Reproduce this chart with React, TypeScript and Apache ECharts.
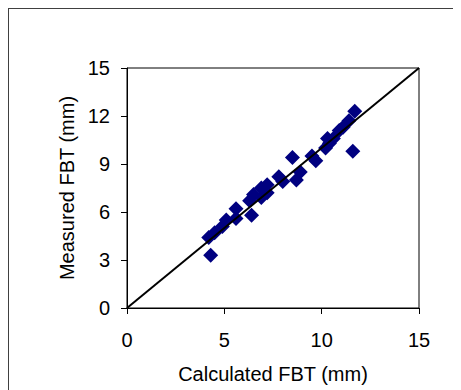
import React, { useEffect, useRef } from "react";
import * as echarts from "echarts";

const calculated: number[] = [4.3, 4.2, 4.5, 4.9, 5.1, 5.6, 5.6, 6.4, 6.3, 6.5, 6.9, 6.9, 7.2, 7.2, 7.8, 8.0, 8.5, 8.7, 8.9, 9.5, 9.7, 10.2, 10.4, 10.3, 10.6, 10.9, 11.1, 11.4, 11.7, 11.6];
const measured: number[] = [3.3, 4.4, 4.7, 5.1, 5.5, 5.6, 6.2, 5.8, 6.7, 7.1, 6.9, 7.5, 7.2, 7.7, 8.2, 7.9, 9.4, 8.0, 8.5, 9.5, 9.2, 10.0, 10.3, 10.6, 10.6, 11.1, 11.3, 11.7, 12.3, 9.8];
const identityLine: number[][] = [[0, 0], [15, 15]];
const xTicks = { min: 0, max: 15, interval: 5 };
const yTicks = { min: 0, max: 15, interval: 3 };
const xTitle = "Calculated FBT (mm)";
const yTitle = "Measured FBT (mm)";

export default function App() {
  const ref = useRef<HTMLDivElement>(null);
  useEffect(() => {
    if (!ref.current) return;
    const chart = echarts.init(ref.current, undefined, { renderer: "svg" });
    const font = "'Liberation Sans', Arial, sans-serif";
    chart.setOption({
      animation: false,
      backgroundColor: "#ffffff",
      grid: {
        left: 118,
        top: 59,
        width: 292,
        height: 240,
        show: true,
        borderColor: "#000",
        borderWidth: 1,
        backgroundColor: "transparent",
      },
      xAxis: {
        type: "value",
        min: xTicks.min,
        max: xTicks.max,
        interval: xTicks.interval,
        name: xTitle,
        nameLocation: "middle",
        nameGap: 56,
        nameTextStyle: { fontFamily: font, fontSize: 20, color: "#000" },
        axisLine: { show: true, onZero: false, lineStyle: { color: "#000", width: 1 } },
        axisTick: { show: true, inside: false, length: 6, lineStyle: { color: "#000" } },
        axisLabel: { margin: 22, fontFamily: font, fontSize: 20, color: "#000" },
        splitLine: { show: false },
      },
      yAxis: {
        type: "value",
        min: yTicks.min,
        max: yTicks.max,
        interval: yTicks.interval,
        name: yTitle,
        nameLocation: "middle",
        nameGap: 48,
        nameTextStyle: { fontFamily: font, fontSize: 20, color: "#000" },
        axisLine: { show: true, onZero: false, lineStyle: { color: "#000", width: 1 } },
        axisTick: { show: true, inside: false, length: 6, lineStyle: { color: "#000" } },
        axisLabel: { margin: 17, fontFamily: font, fontSize: 20, color: "#000" },
        splitLine: { show: false },
      },
      series: [
        {
          type: "scatter",
          symbol: "diamond",
          symbolSize: 15,
          itemStyle: { color: "#000080", opacity: 1 },
          data: calculated.map((c, i) => [c, measured[i]]),
          z: 2,
        },
        {
          type: "line",
          data: identityLine,
          symbol: "none",
          lineStyle: { color: "#000", width: 2 },
          z: 3,
        },
      ],
    });
    return () => chart.dispose();
  }, []);
  return (
    <div
      style={{
        width: 453,
        height: 382,
        boxSizing: "border-box",
        borderTop: "1px solid #404040",
        borderLeft: "1px solid #404040",
      }}
    >
      <div ref={ref} style={{ width: 452, height: 381 }} />
    </div>
  );
}
